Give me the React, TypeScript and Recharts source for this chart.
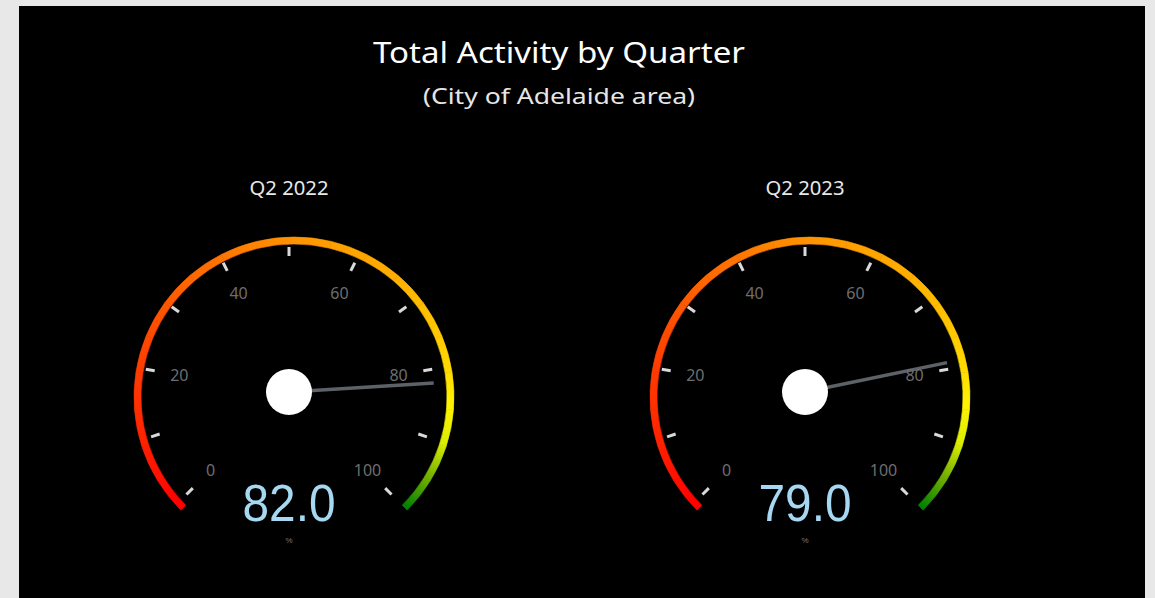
import React from 'react'
import { PieChart, Pie, Cell, RadialBarChart, RadialBar, PolarAngleAxis } from 'recharts'

// gauges shown side by side
const QUARTERS = ['Q2 2022', 'Q2 2023']
const ACTIVITY = [82.0, 79.0]
const UNIT = '%'
const TICK_VALUES = [0, 10, 20, 30, 40, 50, 60, 70, 80, 90, 100]
const TICK_LABELS = [0, 20, 40, 60, 80, 100]

// colour ramp of the dial, one stop every 5 units
const BAND_STOPS = [0, 5, 10, 15, 20, 25, 30, 35, 40, 45, 50, 55, 60, 65, 70, 75, 80, 85, 90, 95, 100]
const BAND_COLORS = [
  '#ff0000', '#ff1200', '#ff2200', '#ff3000', '#ff3c00', '#ff4a00', '#ff5800',
  '#ff6800', '#ff7400', '#ff8400', '#ff9200', '#ff9c00', '#ffa500', '#ffae00',
  '#ffba00', '#ffc800', '#ffd800', '#fff200', '#dcee00', '#70b000', '#008000',
]

const SIZE = 360
const C = SIZE / 2
const START = 225
const END = -45
const RAD = Math.PI / 180
const GAUGE_CENTERS = [289, 805]
const GAUGE_CY = 392

const polar = (cx: number, cy: number, r: number, angle: number) => ({
  x: cx + r * Math.cos(angle * RAD),
  y: cy - r * Math.sin(angle * RAD),
})
const angleOf = (v: number) => START + ((END - START) * v) / 100

const bands = BAND_STOPS.slice(1).map((s, i) => ({ id: i, span: s - BAND_STOPS[i] }))

function Gradients() {
  return (
    <svg width={0} height={0} style={{ position: 'absolute' }}>
      <defs>
        {bands.map((b, i) => {
          const p0 = polar(C, C, 156, angleOf(BAND_STOPS[i]))
          const p1 = polar(C, C, 156, angleOf(BAND_STOPS[i + 1]))
          return (
            <linearGradient key={b.id} id={`band-${i}`} gradientUnits="userSpaceOnUse" x1={p0.x} y1={p0.y} x2={p1.x} y2={p1.y}>
              <stop offset="0%" stopColor={BAND_COLORS[i]} />
              <stop offset="100%" stopColor={BAND_COLORS[i + 1]} />
            </linearGradient>
          )
        })}
      </defs>
    </svg>
  )
}

const GaugeTick = (props: any) => {
  const { payload, x, y } = props
  const angle = payload && typeof payload.coordinate === 'number'
    ? payload.coordinate
    : Math.atan2(C - y, x - C) / RAD
  const a = polar(C, C, 136, angle)
  const b = polar(C, C, 145, angle)
  const l = polar(C, C, 111, angle)
  const showLabel = TICK_LABELS.includes(payload.value)
  return (
    <g>
      <line x1={a.x} y1={a.y} x2={b.x} y2={b.y} stroke="#d9d9d9" strokeWidth={3} />
      {showLabel && (
        <text x={l.x} y={l.y} textAnchor="middle" dominantBaseline="central" fill="#6e6e6e" fontSize={16} fontFamily="'Noto Sans', sans-serif">
          {payload.value}
        </text>
      )}
    </g>
  )
}

const Needle = (props: any) => {
  const { cx, cy, endAngle } = props
  const tip = polar(cx, cy, 145, endAngle)
  return (
    <g>
      <line x1={cx} y1={cy} x2={tip.x} y2={tip.y} stroke="#5d6269" strokeWidth={3.5} />
      <circle cx={cx} cy={cy} r={23} fill="#ffffff" />
    </g>
  )
}

function Gauge({ name, value, left }: { name: string; value: number; left: number }) {
  const data = [{ name, value }]
  return (
    <>
      <div style={{ position: 'absolute', left, top: GAUGE_CY - C, width: SIZE, height: SIZE }}>
        <PieChart width={SIZE} height={SIZE}>
          <Pie
            data={bands}
            dataKey="span"
            cx={C}
            cy={C}
            innerRadius={153}
            outerRadius={160}
            startAngle={START}
            endAngle={END}
            stroke="none"
            isAnimationActive={false}
          >
            {bands.map((b, i) => (
              <Cell key={b.id} fill={`url(#band-${i})`} stroke={`url(#band-${i})`} strokeWidth={0.6} />
            ))}
          </Pie>
        </PieChart>
      </div>
      <div style={{ position: 'absolute', left, top: GAUGE_CY - C, width: SIZE, height: SIZE }}>
        <RadialBarChart width={SIZE} height={SIZE} data={data} cx={C} cy={C} innerRadius={0} outerRadius={145} startAngle={START} endAngle={END}>
          <PolarAngleAxis type="number" domain={[0, 100]} ticks={TICK_VALUES} tick={GaugeTick} tickLine={false} axisLine={false} />
          <RadialBar dataKey="value" shape={Needle} isAnimationActive={false} />
        </RadialBarChart>
      </div>
    </>
  )
}

export default function App() {
  const font = "'Noto Sans', 'Open Sans', sans-serif"
  return (
    <div style={{ position: 'fixed', left: 0, top: 0, width: 1155, height: 598, background: '#e8e8e8', overflow: 'hidden' }}>
      <Gradients />
      <div style={{ position: 'absolute', left: 19, top: 6, width: 1126, height: 592, background: '#000' }} />
      {QUARTERS.map((q, i) => (
        <Gauge key={q} name={q} value={ACTIVITY[i]} left={GAUGE_CENTERS[i] - C} />
      ))}
      <svg width={1155} height={598} style={{ position: 'absolute', left: 0, top: 0, pointerEvents: 'none' }} fontFamily={font}>
        <text x={559} y={63} textAnchor="middle" fill="#ffffff" fontSize={29} textLength={372} lengthAdjust="spacingAndGlyphs">
          Total Activity by Quarter
        </text>
        <text x={559} y={104} textAnchor="middle" fill="#e6e6e6" fontSize={21} textLength={272} lengthAdjust="spacingAndGlyphs">
          (City of Adelaide area)
        </text>
        {QUARTERS.map((q, i) => (
          <g key={q}>
            <text x={GAUGE_CENTERS[i]} y={195} textAnchor="middle" fill="#e8e8e8" fontSize={19} textLength={79} lengthAdjust="spacingAndGlyphs">
              {q}
            </text>
            <text x={GAUGE_CENTERS[i]} y={521} textAnchor="middle" fill="#a6d8f2" fontSize={51} fontFamily="'Liberation Sans', Arial, sans-serif" textLength={93} lengthAdjust="spacingAndGlyphs">
              {ACTIVITY[i].toFixed(1)}
            </text>
            <text x={GAUGE_CENTERS[i]} y={543} textAnchor="middle" fill="#7a7a7a" fontSize={8} fontFamily="'Liberation Sans', Arial, sans-serif">
              {UNIT}
            </text>
          </g>
        ))}
      </svg>
    </div>
  )
}
